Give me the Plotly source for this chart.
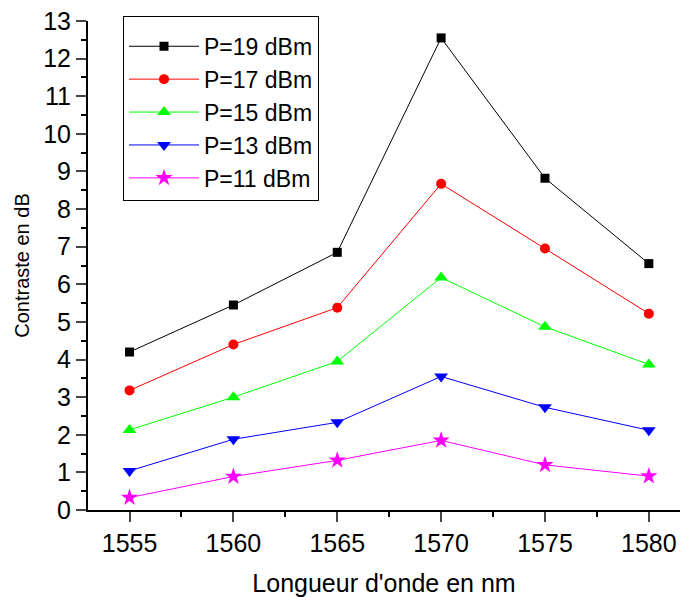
import plotly.graph_objects as go

wavelength = [1555, 1560, 1565, 1570, 1575, 1580]
p19 = [4.20, 5.45, 6.85, 12.55, 8.82, 6.55]
p17 = [3.18, 4.40, 5.38, 8.67, 6.95, 5.22]
p15 = [2.13, 3.00, 3.95, 6.18, 4.87, 3.87]
p13 = [1.04, 1.88, 2.33, 3.55, 2.73, 2.12]
p11 = [0.33, 0.89, 1.32, 1.85, 1.20, 0.90]

series = [
    ("P=19 dBm", p19, "black", "square", 9),
    ("P=17 dBm", p17, "red", "circle", 10),
    ("P=15 dBm", p15, "#00ff00", "triangle-up", 12),
    ("P=13 dBm", p13, "blue", "triangle-down", 12),
    ("P=11 dBm", p11, "magenta", "star", 13),
]

fig = go.Figure()
for name, vals, col, sym, sz in series:
    fig.add_trace(go.Scatter(
        x=wavelength, y=vals, name=name, mode="lines+markers",
        line=dict(color=col, width=1),
        marker=dict(color=col, symbol=sym, size=sz, line=dict(width=0)),
    ))

W, H = 680, 597
L, T, B = 88, 21, 87
PH = H - T - B
PW = W - L

fig.update_layout(
    width=W, height=H,
    margin=dict(l=L, r=0, t=T, b=B, autoexpand=False),
    paper_bgcolor="white", plot_bgcolor="white",
    font=dict(family="Liberation Sans, Arial", color="black"),
    showlegend=True,
    legend=dict(
        x=(123 - L) / PW, y=(PH + T - 16) / PH, xanchor="left", yanchor="top",
        bordercolor="black", borderwidth=1, bgcolor="white",
        font=dict(size=23), tracegroupgap=0, itemwidth=70,
        title=dict(text=" ", font=dict(size=6)),
    ),
    xaxis=dict(
        range=[1553, 1581.5], tickvals=wavelength, ticks="outside",
        ticklen=10, tickwidth=2, showline=True, linecolor="black", linewidth=2,
        showgrid=False, zeroline=False, tickfont=dict(size=25), automargin=False,
        ticklabeloverflow="allow",
        minor=dict(dtick=2.5, tick0=1555, ticks="outside", ticklen=5, tickwidth=2, tickcolor="black"),
        title=dict(text="Longueur d'onde en nm", font=dict(size=25), standoff=24),
    ),
    yaxis=dict(
        range=[0, 13], dtick=1, ticks="outside",
        ticklen=10, tickwidth=2, showline=True, linecolor="black", linewidth=2,
        showgrid=False, zeroline=False, tickfont=dict(size=25), automargin=False,
        ticklabeloverflow="allow",
        minor=dict(dtick=0.5, ticks="outside", ticklen=5, tickwidth=2, tickcolor="black"),
        title=dict(text="Contraste en dB", font=dict(size=20), standoff=8),
    ),
)

fig.write_html("out.html", config={"displayModeBar": False},
               post_script="document.body.style.margin='0px';")
